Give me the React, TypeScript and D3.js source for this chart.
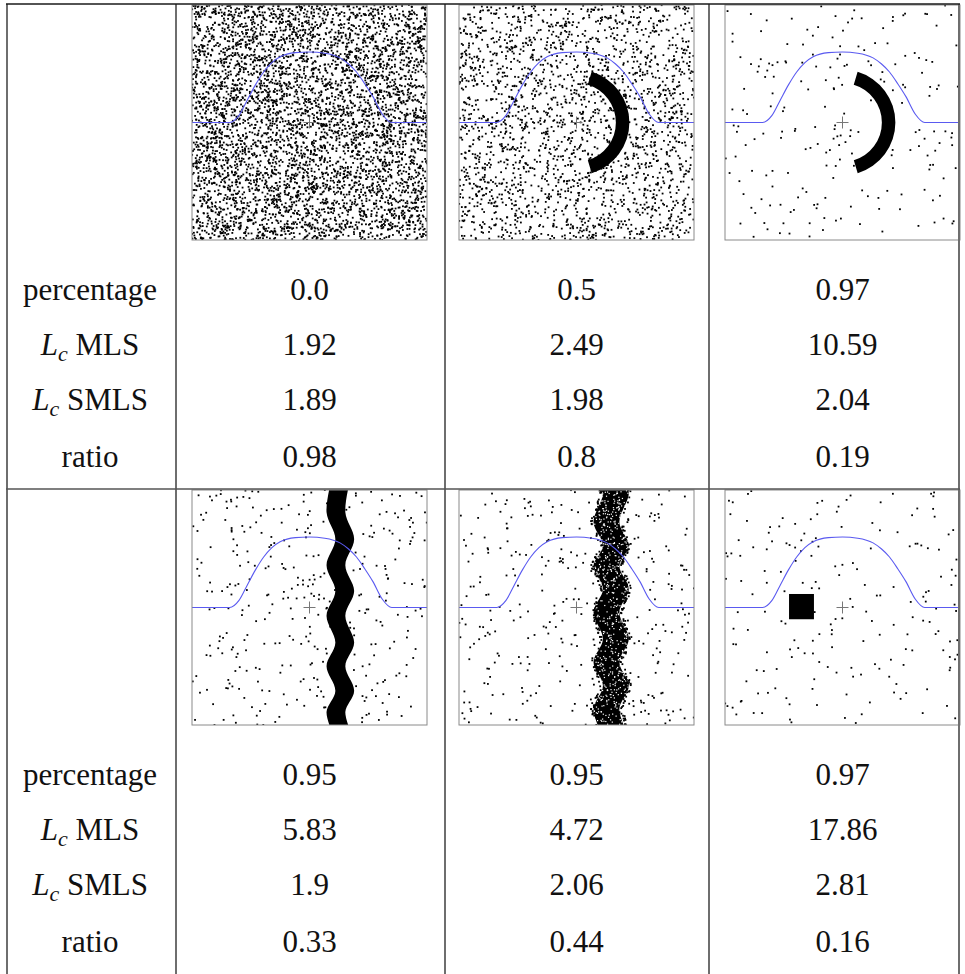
import React, { useRef, useEffect } from "react";
import * as d3 from "d3";

// table values, as printed
const percentage = ["0.0", "0.5", "0.97", "0.95", "0.95", "0.97"];
const lcMLS = ["1.92", "2.49", "10.59", "5.83", "4.72", "17.86"];
const lcSMLS = ["1.89", "1.98", "2.04", "1.9", "2.06", "2.81"];
const ratio = ["0.98", "0.8", "0.19", "0.33", "0.44", "0.16"];
const rowNames = ["percentage", "MLS", "SMLS", "ratio"];
const rowHasLc = [false, true, true, false];

// what sits inside each little scatter panel
const shapes = ["none", "arc", "arc", "wave", "noisywave", "square"];
// rough count of uniform outlier dots per panel (the dots themselves are a seeded scatter)
const noiseCounts = [5200, 2300, 210, 360, 340, 190];

// blue bump curve (panel units, -1..1)
const bumpU = [-1, -0.68, -0.6, -0.53, -0.46, -0.39, -0.32, -0.25, -0.12, 0, 0.13, 0.26, 0.33, 0.4, 0.47, 0.54, 0.62, 0.7, 1];
const bumpV = [0, 0, 0.06, 0.19, 0.32, 0.43, 0.51, 0.56, 0.595, 0.6, 0.59, 0.55, 0.5, 0.43, 0.33, 0.22, 0.07, 0, 0];

// half ring
const arcRadii = [0.335, 0.45];
const arcAngles = [0.29, 2.85];

// square block
const squareU = [-0.455, -0.243];
const squareV = [-0.1, 0.115];

// wavy bands: centre line extremes (v from top to bottom)
const wave4V = [1.1, 0.81, 0.58, 0.36, 0.14, -0.07, -0.3, -0.5, -0.71, -0.89, -1.1];
const wave4U = [0.27, 0.225, 0.3, 0.225, 0.3, 0.225, 0.3, 0.225, 0.3, 0.225, 0.29];
const wave4Half = 0.08;
const wave5V = [1.15, 0.98, 0.725, 0.526, 0.356, 0.157, -0.04, -0.268, -0.466, -0.665, -0.864, -1.1];
const wave5U = [0.257, 0.335, 0.255, 0.335, 0.255, 0.335, 0.255, 0.335, 0.255, 0.335, 0.255, 0.335];
const wave5Half = 0.11;

const W = 965;
const H = 974;
const S = 235;
const panelX = [192, 459, 725];
const panelY = [5, 490];
const colCenter = [309.5, 576.5, 842.5];
const labelX = 90;
const baselines = [300, 355, 410, 467];
const rowShift = 485;
const font = "Liberation Serif, Tinos, Times New Roman, DejaVu Serif, serif";

export default function App() {
  const ref = useRef(null);

  useEffect(() => {
    const svg = d3.select(ref.current);
    svg.selectAll("*").remove();
    svg.append("rect").attr("width", W).attr("height", H).attr("fill", "#fff");
    const defs = svg.append("defs");

    shapes.forEach((shape, i) => {
      const col = i % 3;
      const row = Math.floor(i / 3);
      const x0 = panelX[col];
      const y0 = panelY[row];
      const x = d3.scaleLinear().domain([-1, 1]).range([x0, x0 + S]);
      const y = d3.scaleLinear().domain([-1, 1]).range([y0 + S, y0]);

      defs.append("clipPath").attr("id", "clip" + i)
        .append("rect").attr("x", x0).attr("y", y0).attr("width", S).attr("height", S);
      const g = svg.append("g").attr("clip-path", "url(#clip" + i + ")");

      const rnd = d3.randomUniform.source(d3.randomLcg(0.137 * (i + 1)))(-1, 1);
      const noise = d3.range(noiseCounts[i]).map(() => [rnd(), rnd()]);
      g.selectAll("rect.n").data(noise).join("rect")
        .attr("class", "n")
        .attr("x", d => x(d[0]) - 0.9)
        .attr("y", d => y(d[1]) - 0.9)
        .attr("width", 1.8).attr("height", 1.8)
        .attr("fill", "#000");

      if (shape === "arc") {
        const arc = d3.arc()
          .innerRadius(x(arcRadii[0]) - x(0))
          .outerRadius(x(arcRadii[1]) - x(0))
          .startAngle(arcAngles[0])
          .endAngle(arcAngles[1]);
        g.append("path")
          .attr("d", arc({}))
          .attr("transform", "translate(" + x(0) + "," + y(0) + ")")
          .attr("fill", "#000");
      }

      if (shape === "square") {
        g.append("rect")
          .attr("x", x(squareU[0])).attr("y", y(squareV[1]))
          .attr("width", x(squareU[1]) - x(squareU[0]))
          .attr("height", y(squareV[0]) - y(squareV[1]))
          .attr("fill", "#000");
      }

      if (shape === "wave" || shape === "noisywave") {
        const vs = shape === "wave" ? wave4V : wave5V;
        const us = shape === "wave" ? wave4U : wave5U;
        const hw = shape === "wave" ? wave4Half : wave5Half;
        const pts = vs.map((v, k) => ({ v, u: us[k] }));
        const area = d3.area()
          .y(d => y(d.v))
          .x0(d => x(d.u - hw))
          .x1(d => x(d.u + hw))
          .curve(d3.curveCatmullRom);
        g.append("path").attr("d", area(pts)).attr("fill", "#000");
        if (shape === "noisywave") {
          defs.append("clipPath").attr("id", "band" + i)
            .append("path").attr("d", area(pts));
          const rs = d3.randomUniform.source(d3.randomLcg(0.71))(0, 1);
          const lo = d3.min(us) - hw;
          const hi = d3.max(us) + hw;
          const speck = d3.range(700).map(() => [lo + (hi - lo) * rs(), -1 + 2 * rs()]);
          g.append("g").attr("clip-path", "url(#band" + i + ")")
            .selectAll("rect").data(speck).join("rect")
            .attr("x", d => x(d[0]) - 0.6)
            .attr("y", d => y(d[1]) - 0.6)
            .attr("width", 1.2).attr("height", 1.2)
            .attr("fill", "#fff");
          // ragged edge: a few dots just outside the band
          const edge = d3.range(260).map(() => {
            const k = Math.floor(rs() * (vs.length - 1));
            const t = rs();
            const v = vs[k] + (vs[k + 1] - vs[k]) * t;
            const u = us[k] + (us[k + 1] - us[k]) * t;
            const side = rs() < 0.5 ? -1 : 1;
            return [u + side * (hw + 0.025 * rs()), v];
          });
          g.selectAll("rect.e").data(edge).join("rect")
            .attr("class", "e")
            .attr("x", d => x(d[0]) - 0.9)
            .attr("y", d => y(d[1]) - 0.9)
            .attr("width", 1.8).attr("height", 1.8)
            .attr("fill", "#000");
        }
      }

      const line = d3.line()
        .x(d => x(d[0]))
        .y(d => y(d[1]))
        .curve(d3.curveMonotoneX);
      g.append("path")
        .attr("d", line(bumpU.map((u, k) => [u, bumpV[k]])))
        .attr("fill", "none")
        .attr("stroke", "#5a5af0")
        .attr("stroke-width", 1.1);

      // centre cross
      g.append("path")
        .attr("d", "M" + (x(0) - 6) + "," + y(0) + "h12M" + x(0) + "," + (y(0) - 6) + "v12")
        .attr("stroke", "#777").attr("stroke-width", 1).attr("fill", "none");

      svg.append("rect")
        .attr("x", x0).attr("y", y0).attr("width", S).attr("height", S)
        .attr("fill", "none").attr("stroke", "#8a8a8a").attr("stroke-width", 1);
    });

    // table rules
    const rules = svg.append("g");
    [7, 176, 445, 709, 959].forEach(vx => {
      rules.append("line").attr("x1", vx).attr("x2", vx).attr("y1", 4).attr("y2", H)
        .attr("stroke", "#6e6e6e").attr("stroke-width", 2);
    });
    rules.append("line").attr("x1", 6).attr("x2", 960).attr("y1", 4).attr("y2", 4)
      .attr("stroke", "#1a1a1a").attr("stroke-width", 1.6);
    rules.append("line").attr("x1", 6).attr("x2", 960).attr("y1", 489).attr("y2", 489)
      .attr("stroke", "#555").attr("stroke-width", 1.6);

    // table text
    const rows = [percentage, lcMLS, lcSMLS, ratio];
    const txt = svg.append("g").style("font-family", font).attr("font-size", 31).attr("fill", "#111");
    [0, 1].forEach(r => {
      rowNames.forEach((name, k) => {
        const by = baselines[k] + r * rowShift;
        const t = txt.append("text").attr("x", labelX).attr("y", by).attr("text-anchor", "middle");
        if (rowHasLc[k]) {
          t.append("tspan").attr("font-style", "italic").text("L");
          t.append("tspan").attr("font-style", "italic").attr("font-size", 22).attr("dy", 6).text("c");
          t.append("tspan").attr("dy", -6).text("\u00a0" + name);
        } else {
          t.text(name);
        }
        [0, 1, 2].forEach(c => {
          txt.append("text")
            .attr("x", colCenter[c]).attr("y", by)
            .attr("text-anchor", "middle")
            .text(rows[k][r * 3 + c]);
        });
      });
    });
  }, []);

  return (
    <svg ref={ref} width={W} height={H} style={{ position: "absolute", left: 0, top: 0, display: "block" }} />
  );
}
